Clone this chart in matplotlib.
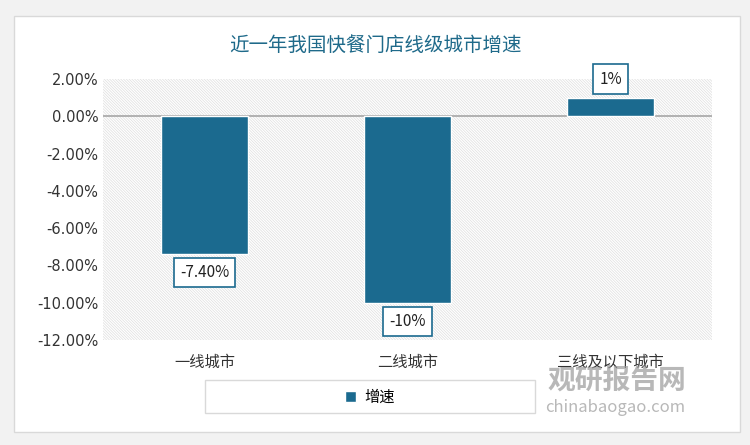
import numpy as np
import matplotlib.pyplot as plt
from matplotlib.patches import Rectangle

plt.rcParams['font.family'] = ['Noto Sans CJK SC', 'DejaVu Sans']
plt.rcParams['hatch.linewidth'] = 0.5

# 数据
categories = ['一线城市', '二线城市', '三线及以下城市']
growth = [-7.4, -10.0, 1.0]
labels = ['-7.40%', '-10%', '1%']

bar_color = '#1b6a8f'

fig = plt.figure(figsize=(7.5, 4.45), dpi=100)
fig.patch.set_facecolor('#f2f2f2')

# 卡片背景
card = Rectangle((14 / 750, 1 - 432 / 445), 726 / 750, 416 / 445,
                 transform=fig.transFigure, facecolor='white',
                 edgecolor='#d9d9d9', linewidth=1, zorder=-2)
fig.patches.append(card)

ax = fig.add_axes([103 / 750, 1 - 340 / 445, 609 / 750, 261 / 445])
ax.set_facecolor('none')
ax.set_zorder(2)

x = np.arange(len(categories))
# 斜线底纹
ax.add_patch(Rectangle((0, 0), 1, 1, transform=ax.transAxes, facecolor='white',
                       edgecolor='#dedede', linewidth=0, hatch='\\' * 12, zorder=0))

bars = ax.bar(x, growth, width=0.43, color=bar_color, edgecolor='white',
              linewidth=1, zorder=3)
ax.axhline(0, color='#a6a6a6', linewidth=1.2, zorder=2)

for xi, v, lab in zip(x, growth, labels):
    if v < 0:
        y = v - 1.0
    else:
        y = v + 1.0
    ax.text(xi, y, lab, ha='center', va='center', fontsize=11, color='#222222',
            bbox=dict(boxstyle='square,pad=0.4', facecolor='white',
                      edgecolor=bar_color, linewidth=1.2), zorder=4)

ax.set_xlim(-0.5, 2.5)
ax.set_ylim(-12, 2)
ax.set_yticks(np.arange(-12, 3, 2))
ax.set_yticklabels(['%.2f%%' % t for t in np.arange(-12, 3, 2)], fontsize=10.5,
                   color='#333333', family=['DejaVu Sans'])
ax.set_xticks(x)
ax.set_xticklabels(categories, fontsize=11, color='#333333')
ax.tick_params(axis='both', length=0)
ax.tick_params(axis='x', pad=10)
for s in ax.spines.values():
    s.set_visible(False)

fig.text(375 / 750, 1 - 45 / 445, '近一年我国快餐门店线级城市增速', ha='center',
         va='center', fontsize=14, color='#1f6a8a')

# 图例
fig.patches.append(Rectangle((205 / 750, 1 - 413 / 445), 330 / 750, 33 / 445,
                             transform=fig.transFigure, facecolor='white',
                             edgecolor='#d9d9d9', linewidth=1, zorder=-1))
fig.legend([bars], ['增速'], loc='center', bbox_to_anchor=(370 / 750, 1 - 397 / 445),
           frameon=False, fontsize=11, handlelength=0.7, handleheight=0.7,
           handletextpad=0.6)

# 水印
fig.text(617 / 750, 1 - 381 / 445, '观研报告网', ha='center', va='center',
         fontsize=20, fontweight='bold', color='#9a9a9a', alpha=0.7, zorder=5)
fig.text(615 / 750, 1 - 407 / 445, 'chinabaogao.com', ha='center', va='center',
         fontsize=12, color='#9a9a9a', alpha=0.7, zorder=5)

fig.savefig('out.png', dpi=100)
